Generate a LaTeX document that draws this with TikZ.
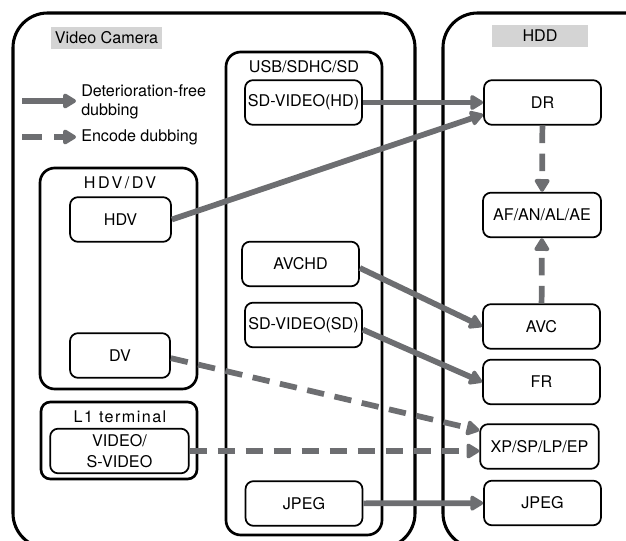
\documentclass[tikz,border=0pt]{standalone}
\usepackage{fontspec}
\setmainfont{TeX Gyre Heros}
\usetikzlibrary{arrows.meta,calc}
\definecolor{flowgray}{RGB}{109,110,113}
\definecolor{taggray}{RGB}{212,212,212}

\begin{document}
\begin{tikzpicture}[
        x=0.75pt, y=-0.75pt,
        font=\fontsize{12.1}{14.2}\selectfont,
        frame/.style={draw, line width=2.3pt, rounded corners=26pt},
        group/.style={draw, line width=2pt, rounded corners=11pt},
        box/.style={draw, line width=1.3pt, rounded corners=6pt, align=center, minimum width=87.75pt, minimum height=33.5pt, inner sep=1pt},
        tag/.style={fill=taggray, minimum height=16.5pt, inner sep=0pt},
        spaced/.style={font=\fontsize{12.1}{14.2}\selectfont\addfontfeature{LetterSpace=16}},
        arrow/.style={-{Triangle[round, length=11pt, width=12.5pt]}, line width=4.3pt, draw=flowgray},
        encode/.style={arrow, dash pattern=on 13pt off 8pt}
    ]
        \useasboundingbox (0,0) rectangle (626,541);
        \clip (0,0) rectangle (626,541);

        % containers
        \draw[frame] (13,13) rectangle (415,548);
        \draw[frame] (443,13) rectangle (690,548);
        \draw[group] (226,52) rectangle (382,535);
        \draw[group] (40,168) rectangle (197,389);
        \draw[group, rounded corners=7pt] (41,402) rectangle (197,479);

        \node[tag, minimum width=83pt] (camtag) at (106.5,38) {Video Camera};
        \node[tag, minimum width=72pt] (hddtag) at (540,36) {HDD};
        \node (usblabel) at (304,67) {USB/SDHC/SD};
        \node[spaced] (hdvlabel) at (120,183) {HDV/DV};
        \node[font=\fontsize{12.1}{14.2}\selectfont\addfontfeature{LetterSpace=9}] (l1label) at (120,417) {L1 terminal};

        % legend
        \coordinate (solidA) at (22,101);
        \coordinate (solidB) at (76,101);
        \coordinate (dashA) at (22,137);
        \coordinate (dashB) at (76,137);
        \node[anchor=west, align=left, inner sep=0pt] (solidtext) at (81,102) {Deterioration-free\\dubbing};
        \node[anchor=west, inner sep=0pt] (dashtext) at (81,137) {Encode dubbing};
        \draw[arrow] (solidA) -- (solidB);
        \draw[arrow, dash pattern=on 15pt off 9pt] (dashA) -- (dashB);

        % camera side
        \node[box, minimum width=75.75pt] (hdv) at (120.5,219.5) {HDV};
        \node[box, minimum width=75pt] (dv) at (120,355.5) {DV};
        \node[box, minimum width=104pt, inner sep=0pt, font=\fontsize{12.1}{15.5}\selectfont] (video) at (119.5,451) {VIDEO/\\S-VIDEO};
        \node[box] (sdhd) at (303.5,102.5) {SD-VIDEO(HD)};
        \node[box] (avchd) at (300.5,264) {AVCHD};
        \node[box] (sdsd) at (303.5,325) {SD-VIDEO(SD)};
        \node[box] (jpegcam) at (304,503.5) {JPEG};

        % hdd side
        \node[box] (dr) at (542.5,102.5) {DR};
        \node[box, minimum width=88.5pt] (af) at (542,215) {AF/AN/AL/AE};
        \node[box] (avc) at (541.5,326.5) {AVC};
        \node[box] (fr) at (541.5,382) {FR};
        \node[box, minimum width=89pt] (xp) at (539.5,446.5) {XP/SP/LP/EP};
        \node[box] (jpeghdd) at (542.5,503) {JPEG};

        \draw[arrow] (sdhd) -- (dr);
        \draw[arrow] (hdv.east) -- ([yshift=-9pt]dr.west);
        \draw[arrow] ([yshift=-3pt]avchd.east) -- (avc.west);
        \draw[arrow] ([yshift=-3.5pt]sdsd.east) -- (fr.west);
        \draw[arrow] (jpegcam) -- (jpeghdd);
        \draw[encode] ([yshift=-2pt]dv.east) -- ([yshift=12pt]xp.west);
        \draw[encode] (video.east) -- (video.east -| xp.west);
        \draw[encode] (dr) -- (af);
        \draw[encode] (avc) -- (af);
    \end{tikzpicture}
\end{document}
